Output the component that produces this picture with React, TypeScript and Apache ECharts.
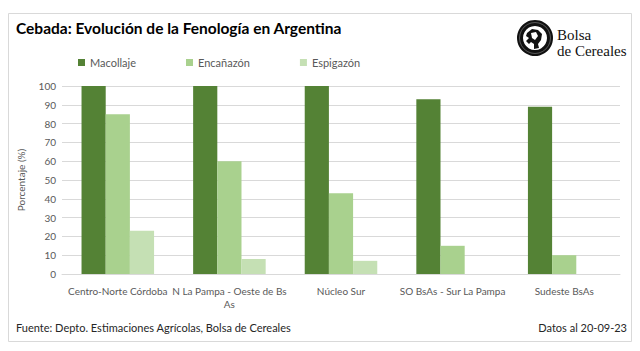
import React, { useEffect, useRef } from "react";
import * as echarts from "echarts";

const categories = [
  "Centro-Norte Córdoba",
  "N La Pampa - Oeste de Bs As",
  "Núcleo Sur",
  "SO BsAs - Sur La Pampa",
  "Sudeste BsAs",
];
const macollaje = [100, 100, 100, 93, 89];
const encanazon = [85, 60, 43, 15, 10];
const espigazon = [23, 8, 7, 0, 0];
const seriesNames = ["Macollaje", "Encañazón", "Espigazón"];
const seriesColors = ["#548235", "#A9D18E", "#C5E0B4"];

const FONT = "Lato, 'Open Sans', sans-serif";
const SERIF = "'Liberation Serif', 'DejaVu Serif', serif";

export default function App() {
  const ref = useRef<HTMLDivElement>(null);
  useEffect(() => {
    if (!ref.current) return;
    const chart = echarts.init(ref.current, null, { renderer: "svg" });
    const values = [macollaje, encanazon, espigazon];
    chart.setOption({
      animation: false,
      backgroundColor: "#ffffff",
      textStyle: { fontFamily: FONT },
      legend: {
        top: 52,
        left: 73,
        itemWidth: 7,
        itemHeight: 7,
        itemGap: 50,
        icon: "rect",
        textStyle: { fontSize: 11, color: "#595959", fontFamily: FONT },
        data: seriesNames,
      },
      grid: { left: 62, right: 20, top: 86, bottom: 77 },
      xAxis: {
        type: "category",
        data: categories,
        axisLine: { lineStyle: { color: "#d9d9d9" } },
        axisTick: { show: false },
        axisLabel: {
          fontSize: 10,
          color: "#595959",
          margin: 10,
          lineHeight: 13,
          interval: 0,
          formatter: (v: string) => v.replace("de Bs As", "de Bs\nAs"),
        },
      },
      yAxis: {
        type: "value",
        min: 0,
        max: 100,
        interval: 10,
        name: "Porcentaje (%)",
        nameLocation: "middle",
        nameGap: 36,
        nameRotate: 90,
        nameTextStyle: { fontSize: 10, color: "#595959" },
        axisLine: { show: false },
        axisTick: { show: false },
        axisLabel: { fontSize: 10, color: "#595959", margin: 6 },
        splitLine: { lineStyle: { color: "#d9d9d9" } },
      },
      series: seriesNames.map((n, i) => ({
        name: n,
        type: "bar",
        data: values[i],
        itemStyle: { color: seriesColors[i] },
        barGap: "0%",
        barCategoryGap: "35%",
      })),
      graphic: [
        {
          type: "rect",
          shape: { x: 8.5, y: 13.5, width: 623, height: 328 },
          style: { fill: "none", stroke: "#d9d9d9", lineWidth: 1 },
          silent: true,
        },
        {
          type: "text",
          left: 16,
          top: 20,
          style: {
            text: "Cebada: Evolución de la Fenología en Argentina",
            fontSize: 15.5,
            fontWeight: "bold",
            fill: "#000000",
            fontFamily: FONT,
          },
        },
        {
          type: "text",
          left: 16,
          top: 322,
          style: {
            text: "Fuente: Depto. Estimaciones Agrícolas, Bolsa de Cereales",
            fontSize: 11,
            fill: "#262626",
            fontFamily: FONT,
          },
        },
        {
          type: "text",
          right: 13,
          top: 322,
          style: {
            text: "Datos al 20-09-23",
            fontSize: 11,
            fill: "#262626",
            fontFamily: FONT,
          },
        },
        {
          type: "group",
          x: 535,
          y: 38,
          children: [
            { type: "circle", shape: { cx: 0, cy: 0, r: 18 }, style: { fill: "#111" } },
            { type: "circle", shape: { cx: 0, cy: 0, r: 12 }, style: { fill: "#fff" } },
            { type: "circle", shape: { cx: 0, cy: 0, r: 15.5 }, style: { fill: "none", stroke: "#888", lineWidth: 0.6 } },
            {
              type: "polygon",
              shape: {
                points: [
                  [-8, -5], [-3, -9], [3, -8], [7, -4], [6, 2], [3, 6], [4, 10],
                  [-1, 11], [-1, 6], [-4, 4], [-6, 6], [-9, 3], [-6, 0], [-9, -2],
                ],
              },
              style: { fill: "#111" },
            },
            {
              type: "polygon",
              shape: { points: [[-4, -5], [1, -6], [3, -2], [0, 2], [-3, 0]] },
              style: { fill: "#fff" },
            },
          ],
        },
        {
          type: "text",
          left: 557,
          top: 27,
          style: {
            text: "Bolsa",
            fontSize: 15,
            lineHeight: 15,
            fill: "#111",
            fontFamily: SERIF,
          },
        },
        {
          type: "text",
          left: 557,
          top: 43,
          style: {
            text: "de Cereales",
            fontSize: 15,
            lineHeight: 15,
            fill: "#111",
            fontFamily: SERIF,
          },
        },
      ],
    });
    return () => chart.dispose();
  }, []);
  return (
    <div
      ref={ref}
      style={{ position: "fixed", left: 0, top: 0, width: 640, height: 351 }}
    />
  );
}
